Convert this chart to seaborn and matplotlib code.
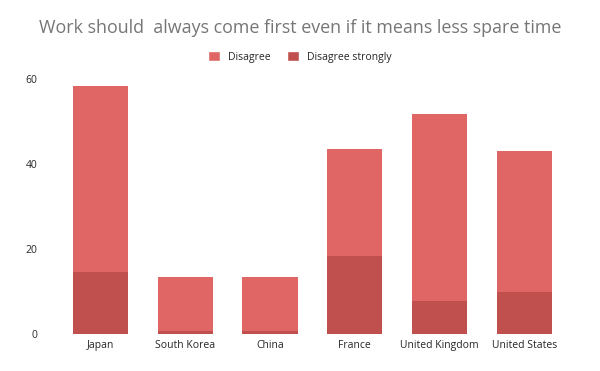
import pandas as pd
import matplotlib.pyplot as plt
import seaborn as sns
from matplotlib.patches import Patch

# chart data
countries = ["Japan", "South Korea", "China", "France", "United Kingdom", "United States"]
disagree = [43.8, 12.7, 12.7, 25.2, 43.9, 33.1]
disagree_strongly = [14.7, 0.8, 0.8, 18.4, 7.9, 10.0]

light = "#E06666"
dark = "#C0504D"

df = pd.DataFrame({"country": countries, "disagree": disagree, "strongly": disagree_strongly})
df["total"] = df["disagree"] + df["strongly"]

sns.set_style("white")
plt.rcParams["font.family"] = ["Open Sans", "DejaVu Sans"]

fig = plt.figure(figsize=(6, 3.71), dpi=100)
ax = fig.add_axes([0.0967, 0.0984, 0.848, 0.7446])

# stacked: total bar in light, strongly drawn over it from zero
sns.barplot(data=df, x="country", y="total", color=light, width=0.65,
            saturation=1, linewidth=0, ax=ax)
sns.barplot(data=df, x="country", y="strongly", color=dark, width=0.65,
            saturation=1, linewidth=0, ax=ax)

ax.set_ylim(0, 65)
ax.set_yticks([0, 20, 40, 60])
ax.set_xlabel("")
ax.set_ylabel("")
sns.despine(ax=ax, left=True, bottom=True)
ax.tick_params(axis="both", length=0, labelsize=7.5, colors="#262626")
ax.tick_params(axis="y", pad=15)
ax.tick_params(axis="x", pad=4)

fig.text(0.5, 1 - 28 / 371, "Work should  always come first even if it means less spare time",
         ha="center", va="center", fontsize=12.9, color="#767676")

handles = [Patch(facecolor=light, label="Disagree"),
           Patch(facecolor=dark, label="Disagree strongly")]
fig.legend(handles=handles, loc="center", bbox_to_anchor=(0.5, 1 - 56.7 / 371), ncol=2,
           frameon=False, fontsize=7.5, handlelength=1.15, handleheight=1.15,
           columnspacing=1.6, handletextpad=0.77, labelcolor="#262626")

fig.savefig("out.png", dpi=100)
